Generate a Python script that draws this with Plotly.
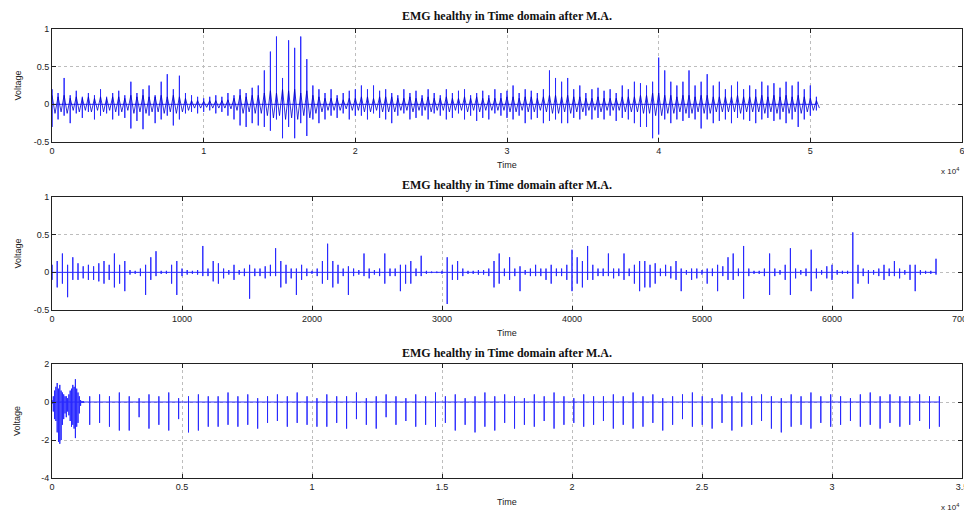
import plotly.graph_objects as go

PAGE_W, PAGE_H = 972, 514
OFF = 8  # default page margin of the html body
W, H = PAGE_W - OFF, PAGE_H - OFF

# ---------------- Panel 1: envelope per 400-sample block ----------------
p1_step = 400
p1_hi = [0.2, 0.15, 0.35, 0.12, 0.18, 0.1, 0.15, 0.12, 0.2, 0.1, 0.15, 0.18, 0.12,
         0.3, 0.15, 0.2, 0.25, 0.12, 0.3, 0.4, 0.2, 0.38, 0.15,
         0.12, 0.1, 0.08, 0.1, 0.12, 0.1, 0.15, 0.12,
         0.2, 0.15, 0.22, 0.25, 0.45,
         0.7, 0.9, 0.35, 0.85, 0.75, 0.9, 0.6, 0.25,
         0.2, 0.15, 0.2, 0.12, 0.15, 0.18, 0.2,
         0.25, 0.2, 0.25, 0.18, 0.2, 0.15, 0.12, 0.2, 0.15, 0.18, 0.12, 0.2, 0.15, 0.12, 0.2, 0.15, 0.18, 0.2, 0.12, 0.15, 0.18, 0.12, 0.2, 0.15, 0.18,
         0.25, 0.15, 0.2, 0.18, 0.15, 0.2, 0.45, 0.35, 0.3, 0.35, 0.2, 0.25, 0.15, 0.2, 0.22, 0.18, 0.2, 0.15, 0.25, 0.2, 0.3, 0.28,
         0.25, 0.3, 0.62, 0.45,
         0.3, 0.25, 0.3, 0.45, 0.25, 0.3, 0.4, 0.25, 0.3, 0.2, 0.25, 0.3, 0.2, 0.25, 0.2, 0.3, 0.25, 0.28, 0.22, 0.3, 0.25, 0.3, 0.2, 0.25, 0.1]
p1_lo = [-0.3, -0.2, -0.15, -0.25, -0.12, -0.18, -0.1, -0.2, -0.15, -0.12, -0.2, -0.15, -0.18,
         -0.32, -0.22, -0.33, -0.15, -0.25, -0.2, -0.15, -0.28, -0.2, -0.12,
         -0.1, -0.12, -0.1, -0.08, -0.12, -0.1, -0.15, -0.2,
         -0.28, -0.3, -0.25, -0.28, -0.3,
         -0.35, -0.2, -0.45, -0.3, -0.45, -0.25, -0.42, -0.2,
         -0.25, -0.2, -0.15, -0.18, -0.12, -0.2, -0.15,
         -0.15, -0.2, -0.12, -0.18, -0.2, -0.25, -0.15, -0.12, -0.2, -0.18, -0.15, -0.2, -0.12, -0.15, -0.2, -0.18, -0.12, -0.2, -0.15, -0.22, -0.18, -0.2, -0.12, -0.15, -0.18,
         -0.2, -0.15, -0.25, -0.2, -0.18, -0.25, -0.22, -0.2, -0.25, -0.25, -0.18, -0.2, -0.15, -0.2, -0.18, -0.2, -0.15, -0.22, -0.18, -0.2, -0.25, -0.3,
         -0.3, -0.45, -0.4, -0.2,
         -0.25, -0.2, -0.22, -0.18, -0.2, -0.32, -0.2, -0.25, -0.22, -0.2, -0.25, -0.18, -0.2, -0.22, -0.25, -0.2, -0.18, -0.22, -0.2, -0.25, -0.2, -0.3, -0.2, -0.15, -0.08]
# typical (dense core) amplitude of each block
p1_core = [0.12, 0.1, 0.12, 0.08, 0.1, 0.08, 0.1, 0.08, 0.1, 0.08, 0.1, 0.1, 0.08,
           0.12, 0.1, 0.12, 0.1, 0.1, 0.12, 0.1, 0.12, 0.1, 0.08,
           0.05, 0.05, 0.04, 0.05, 0.05, 0.05, 0.06, 0.08,
           0.12, 0.1, 0.12, 0.12, 0.15,
           0.18, 0.15, 0.2, 0.18, 0.2, 0.15, 0.18, 0.12,
           0.1, 0.08, 0.08, 0.08, 0.06, 0.08, 0.08,
           0.1, 0.1, 0.08, 0.1, 0.1, 0.1, 0.08, 0.08, 0.1, 0.08, 0.08, 0.1, 0.08, 0.08, 0.1, 0.08, 0.08, 0.1, 0.08, 0.1, 0.08, 0.08, 0.08, 0.08, 0.1,
           0.1, 0.08, 0.1, 0.1, 0.08, 0.1, 0.12, 0.12, 0.1, 0.12, 0.1, 0.1, 0.08, 0.08, 0.1, 0.08, 0.08, 0.08, 0.1, 0.1, 0.1, 0.12,
           0.12, 0.15, 0.15, 0.12,
           0.12, 0.1, 0.12, 0.12, 0.1, 0.12, 0.12, 0.1, 0.1, 0.1, 0.1, 0.12, 0.1, 0.1, 0.1, 0.12, 0.1, 0.12, 0.1, 0.12, 0.1, 0.12, 0.1, 0.08, 0.05]

# ---------------- Panel 2: envelope per 40-sample block ----------------
p2_step = 40
p2_hi = [0.1, 0.15, 0.25, 0.1, 0.2, 0.12, 0.08, 0.1, 0.08, 0.12,
         0.15, 0.1, 0.25, 0.1, 0.15, 0.03, 0.02, 0.05, 0.1, 0.2,
         0.28, 0.02, 0.02, 0.1, 0.15, 0.05, 0.03, 0.02, 0.03, 0.35,
         0.05, 0.15, 0.12, 0.05, 0.03, 0.1, 0.03, 0.05, 0.1, 0.05,
         0.05, 0.08, 0.1, 0.32, 0.15, 0.1, 0.05, 0.05, 0.1, 0.05,
         0.02, 0.05, 0.15, 0.38, 0.15, 0.1, 0.05, 0.08, 0.05, 0.03,
         0.25, 0.05, 0.03, 0.05, 0.25, 0.05, 0.05, 0.1, 0.1, 0.15,
         0.05, 0.22, 0.02, 0.01, 0.01, 0.02, 0.2, 0.1, 0.15, 0.05,
         0.02, 0.02, 0.03, 0.03, 0.05, 0.15, 0.25, 0.05, 0.2, 0.05,
         0.08, 0.03, 0.05, 0.1, 0.05, 0.05, 0.1, 0.05, 0.05, 0.1,
         0.3, 0.2, 0.15, 0.35, 0.1, 0.05, 0.05, 0.25, 0.05, 0.05,
         0.25, 0.05, 0.1, 0.15, 0.15, 0.1, 0.12, 0.05, 0.1, 0.08,
         0.15, 0.05, 0.03, 0.05, 0.05, 0.03, 0.05, 0.05, 0.1, 0.08,
         0.2, 0.25, 0.05, 0.35, 0.05, 0.02, 0.02, 0.05, 0.25, 0.05,
         0.03, 0.1, 0.32, 0.05, 0.03, 0.05, 0.3, 0.05, 0.03, 0.08,
         0.1, 0.03, 0.02, 0.02, 0.53, 0.1, 0.05, 0.03, 0.03, 0.05,
         0.1, 0.05, 0.15, 0.05, 0.03, 0.1, 0.1, 0.03, 0.02, 0.02,
         0.18]
p2_lo = [-0.1, -0.2, -0.15, -0.33, -0.1, -0.1, -0.08, -0.1, -0.1, -0.12,
         -0.15, -0.1, -0.2, -0.15, -0.25, -0.03, -0.02, -0.05, -0.3, -0.1,
         -0.05, -0.02, -0.02, -0.15, -0.3, -0.05, -0.03, -0.02, -0.03, -0.05,
         -0.05, -0.12, -0.15, -0.08, -0.03, -0.1, -0.03, -0.05, -0.35, -0.05,
         -0.05, -0.08, -0.05, -0.05, -0.2, -0.15, -0.08, -0.3, -0.1, -0.05,
         -0.02, -0.05, -0.15, -0.1, -0.2, -0.15, -0.05, -0.3, -0.05, -0.03,
         -0.05, -0.08, -0.03, -0.05, -0.15, -0.05, -0.05, -0.25, -0.15, -0.15,
         -0.05, -0.05, -0.02, -0.01, -0.01, -0.02, -0.42, -0.1, -0.1, -0.05,
         -0.02, -0.02, -0.03, -0.03, -0.05, -0.2, -0.15, -0.05, -0.1, -0.05,
         -0.25, -0.03, -0.05, -0.05, -0.05, -0.1, -0.15, -0.05, -0.05, -0.1,
         -0.25, -0.15, -0.2, -0.1, -0.1, -0.05, -0.05, -0.05, -0.08, -0.05,
         -0.1, -0.05, -0.15, -0.25, -0.2, -0.2, -0.15, -0.05, -0.05, -0.08,
         -0.1, -0.25, -0.03, -0.1, -0.08, -0.03, -0.15, -0.05, -0.25, -0.05,
         -0.1, -0.1, -0.05, -0.35, -0.05, -0.02, -0.02, -0.05, -0.3, -0.05,
         -0.03, -0.1, -0.3, -0.08, -0.03, -0.05, -0.25, -0.08, -0.03, -0.08,
         -0.1, -0.03, -0.02, -0.02, -0.35, -0.15, -0.05, -0.15, -0.03, -0.05,
         -0.1, -0.05, -0.05, -0.08, -0.03, -0.1, -0.25, -0.03, -0.02, -0.02,
         -0.03]

# ---------------- Panel 3: initial burst + regular spikes ----------------
p3_burst_step = 50
p3_burst_hi = [0.1, 0.3, 0.6, 0.8, 1.0, 0.7, 0.9, 0.6, 0.5, 0.4, 0.3, 0.3, 0.2,
               0.4, 0.6, 0.7, 0.9, 0.8, 1.2, 0.7, 0.5, 0.3, 0.1, 0.05, 0.05]
p3_burst_lo = [-0.1, -0.5, -0.9, -1.0, -1.6, -2.1, -2.2, -2.0, -1.2, -0.9, -0.6, -0.8, -0.5,
               -0.7, -1.0, -1.3, -1.2, -1.4, -1.9, -1.3, -1.1, -0.6, -0.2, -0.05, -0.05]
p3_spike_start = 1450
p3_spike_step = 380
p3_spike_hi = [0.3, 0.4, 0.3, 0.5, 0.3, 0.2, 0.4, 0.3, 0.5, 0.2, 0.3, 0.4, 0.3, 0.3, 0.5, 0.3, 0.4, 0.2, 0.3, 0.4, 0.3, 0.5, 0.3, 0.2,
               0.4, 0.3, 0.3, 0.5, 0.2, 0.3, 0.4, 0.3, 0.2, 0.4, 0.3, 0.5, 0.3, 0.4, 0.2, 0.3, 0.5, 0.3, 0.4, 0.3, 0.2, 0.4, 0.3, 0.5, 0.3, 0.2, 0.4, 0.3, 0.3, 0.4,
               0.3, 0.5, 0.3, 0.4, 0.2, 0.3, 0.4, 0.5, 0.3, 0.2, 0.4, 0.3, 0.5, 0.3, 0.4, 0.3, 0.2, 0.4, 0.3, 0.5, 0.3, 0.4, 0.3, 0.2, 0.4, 0.5, 0.3, 0.4, 0.3, 0.3, 0.4, 0.3, 0.3]
p3_spike_lo = [-1.2, -1.1, -1.3, -1.5, -1.5, -0.8, -1.4, -1.2, -1.5, -0.9, -1.6, -1.5, -1.3, -1.3, -1.2, -1.3, -1.2, -1.4, -1.1, -1.0, -1.3, -1.1, -1.2, -1.3,
               -1.3, -1.1, -1.4, -0.9, -1.2, -1.4, -0.8, -1.2, -1.0, -1.3, -1.2, -1.3, -1.1, -1.5, -1.2, -1.6, -1.3, -1.5, -1.1, -1.4, -1.2, -1.3, -1.0, -1.4, -1.2, -1.1, -1.3, -1.2, -1.0, -1.4,
               -1.2, -1.4, -1.3, -1.1, -1.5, -1.2, -0.9, -1.3, -1.2, -1.4, -1.1, -1.5, -1.3, -1.2, -1.0, -1.4, -1.6, -1.3, -1.2, -1.4, -1.1, -1.3, -1.2, -1.0, -1.3, -1.2, -1.4, -1.1, -1.3, -1.2, -1.0, -1.4, -1.3]

# axis ticks
x1_ticks = [0, 10000, 20000, 30000, 40000, 50000, 60000]
x1_text = ["0", "1", "2", "3", "4", "5", "6"]
x2_ticks = [0, 1000, 2000, 3000, 4000, 5000, 6000, 7000]
x2_text = ["0", "1000", "2000", "3000", "4000", "5000", "6000", "7000"]
x3_ticks = [0, 5000, 10000, 15000, 20000, 25000, 30000, 35000]
x3_text = ["0", "0.5", "1", "1.5", "2", "2.5", "3", "3.5"]
y1_ticks = [-0.5, 0, 0.5, 1]
y1_text = ["-0.5", "0", "0.5", "1"]
y3_ticks = [-4, -2, 0, 2]
y3_text = ["-4", "-2", "0", "2"]

title_text = "EMG healthy in Time domain after M.A."

for a, b in [(p1_hi, p1_lo), (p1_hi, p1_core), (p2_hi, p2_lo), (p3_burst_hi, p3_burst_lo), (p3_spike_hi, p3_spike_lo)]:
    assert len(a) == len(b), (len(a), len(b))


def strokes(times, hi, lo):
    # vertical strokes returning to the baseline
    xs, ys = [], []
    for t, h, l in zip(times, hi, lo):
        xs += [t, t, t, t]
        ys += [0, h, l, 0]
    return xs, ys


def zigzag(times, amp, half):
    xs, ys = [], []
    for t, a in zip(times, amp):
        xs += [t, t + half]
        ys += [a, -a]
    return xs, ys


t1 = [i * p1_step for i in range(len(p1_hi))]
t2 = [i * p2_step for i in range(len(p2_hi))]
t3b = [i * p3_burst_step for i in range(len(p3_burst_hi))]
t3s = [p3_spike_start + i * p3_spike_step for i in range(len(p3_spike_hi))]

x1, y1 = strokes(t1, p1_hi, p1_lo)
x1c, y1c = zigzag(t1, p1_core, p1_step / 2)
x2, y2 = strokes(t2, p2_hi, p2_lo)
x3a, y3a = strokes(t3b, p3_burst_hi, p3_burst_lo)
x3b, y3b = strokes(t3s, p3_spike_hi, p3_spike_lo)
x3, y3 = x3a + x3b, y3a + y3b

LIGHT = "rgb(40,40,255)"
DARK = "rgb(0,0,200)"
fig = go.Figure()
fig.add_trace(go.Scatter(x=x1, y=y1, mode="lines", line=dict(color=LIGHT, width=1.0), xaxis="x", yaxis="y", showlegend=False))
fig.add_trace(go.Scatter(x=x1c, y=y1c, mode="lines", line=dict(color=DARK, width=0.8), xaxis="x", yaxis="y", showlegend=False))
fig.add_trace(go.Scatter(x=x2, y=y2, mode="lines", line=dict(color=LIGHT, width=1.0), xaxis="x2", yaxis="y2", showlegend=False))
fig.add_trace(go.Scatter(x=x3, y=y3, mode="lines", line=dict(color=LIGHT, width=1.0), xaxis="x3", yaxis="y3", showlegend=False))


def px(v):
    return (v - OFF) / W


def py(v):
    return 1 - (v - OFF) / H


# page pixel positions of the three plot boxes
panels = [(29, 142), (197, 310), (364, 478)]
L, R = 52, 962

tickfont = dict(family="Liberation Sans, Arial, sans-serif", size=9, color="#222")
common = dict(showline=True, linecolor="#222", linewidth=1, mirror="ticks", ticks="inside", ticklen=4,
              tickcolor="#222", showgrid=True, gridcolor="#bdbdbd", griddash="dot", gridwidth=1,
              zeroline=False, tickfont=tickfont, automargin=False, ticklabeloverflow="allow")

layout = dict(width=W, height=H, margin=dict(l=0, r=0, t=0, b=0, autoexpand=False),
              paper_bgcolor="white", plot_bgcolor="white", showlegend=False)

xinfo = [(x1_ticks, x1_text, [0, 60000]), (x2_ticks, x2_text, [0, 7000]), (x3_ticks, x3_text, [0, 35000])]
yinfo = [(y1_ticks, y1_text, [-0.5, 1]), (y1_ticks, y1_text, [-0.5, 1]), (y3_ticks, y3_text, [-4, 2])]

for k, (top, bot) in enumerate(panels):
    sx = "" if k == 0 else str(k + 1)
    layout["xaxis" + sx] = dict(common, domain=[px(L), px(R)], range=xinfo[k][2], tickvals=xinfo[k][0],
                                ticktext=xinfo[k][1], anchor="y" + sx)
    layout["yaxis" + sx] = dict(common, domain=[py(bot), py(top)], range=yinfo[k][2], tickvals=yinfo[k][0],
                                ticktext=yinfo[k][1], anchor="x" + sx)

fig.update_layout(**layout)

ann = []
title_y = [16, 185, 353]
time_y = [165, 333, 502]
for k, (top, bot) in enumerate(panels):
    ann.append(dict(text="<b>" + title_text + "</b>", x=px((L + R) / 2), y=py(title_y[k]), xref="paper", yref="paper",
                    showarrow=False, xanchor="center", yanchor="middle",
                    font=dict(family="Liberation Serif, Times New Roman, serif", size=12, color="#111")))
    ann.append(dict(text="Time", x=px((L + R) / 2), y=py(time_y[k]), xref="paper", yref="paper",
                    showarrow=False, xanchor="center", yanchor="middle",
                    font=dict(family="Liberation Sans, Arial, sans-serif", size=9, color="#222")))
    ann.append(dict(text="Voltage", x=px(17), y=py((top + bot) / 2), xref="paper", yref="paper", textangle=-90,
                    showarrow=False, xanchor="center", yanchor="middle",
                    font=dict(family="Liberation Sans, Arial, sans-serif", size=9, color="#222")))
for yy in [171, 507]:
    ann.append(dict(text="x 10<sup>4</sup>", x=px(950), y=py(yy), xref="paper", yref="paper",
                    showarrow=False, xanchor="center", yanchor="middle",
                    font=dict(family="Liberation Sans, Arial, sans-serif", size=8, color="#222")))
fig.update_layout(annotations=ann)

fig.write_html("out.html")
